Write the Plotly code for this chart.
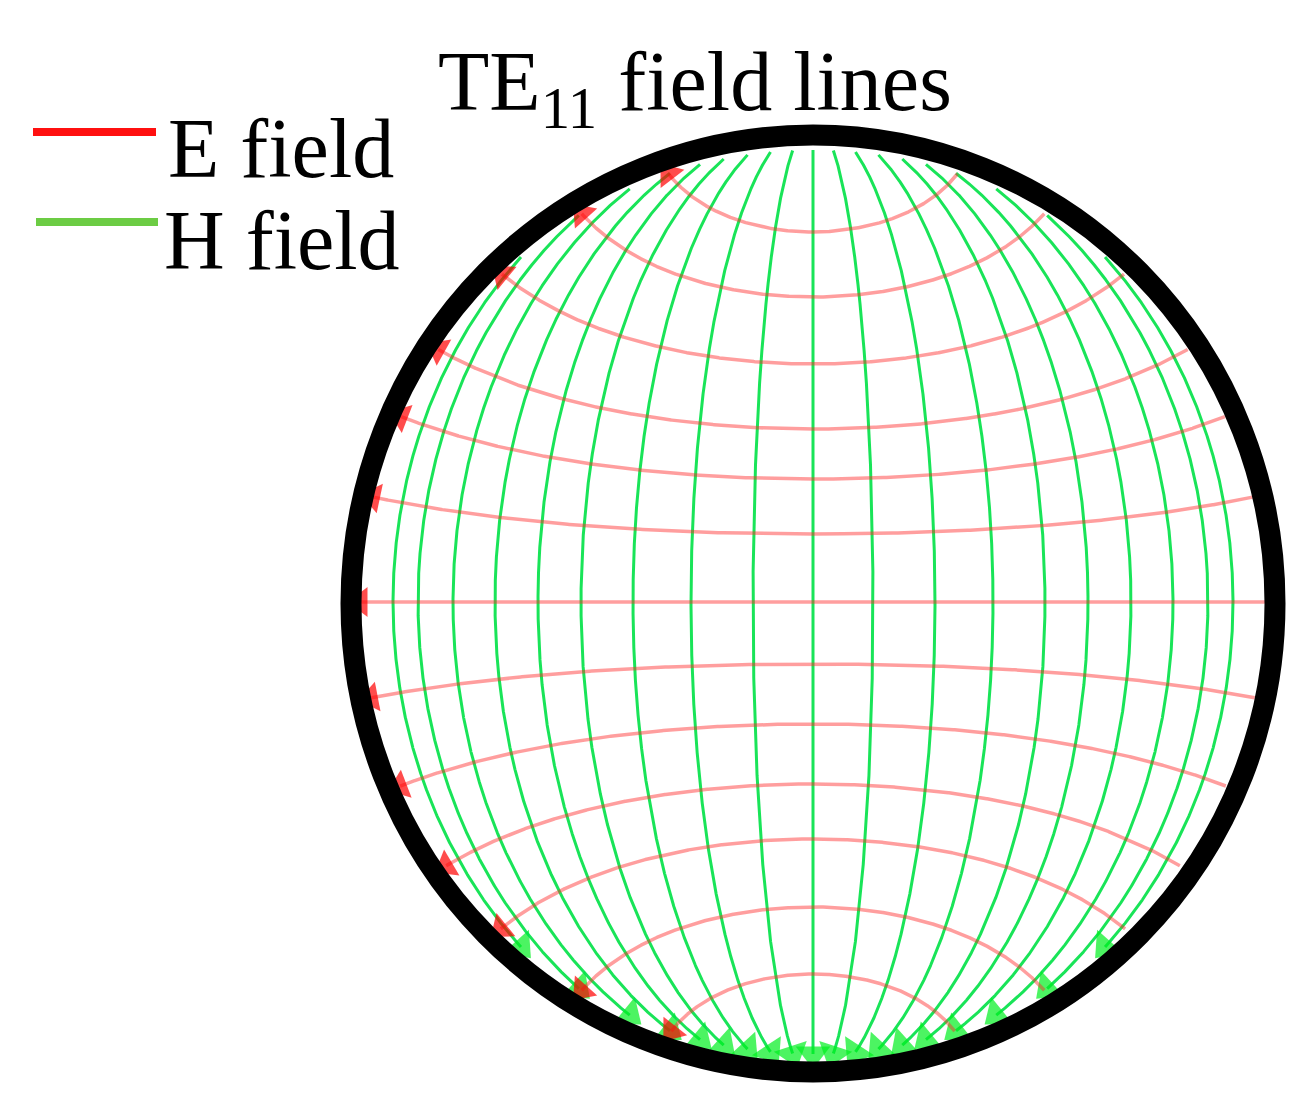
import numpy as np
import plotly.graph_objects as go

# field-line positions (pixels from the guide centre)
h_offsets = [-420, -395, -360, -318, -275, -232, -180, -122, -60, 0,
             60, 122, 180, 232, 275, 318, 360, 395, 420]
e_offsets = [370, 305, 238, 173, 123, 68, 0, -62, -122, -182, -237, -305, -372]

cx, cy = 805, 594      # guide centre in page pixels
b = 480                # half height of the H-line ellipses
r_clip = 452

fig = go.Figure()


def inside_run(X, Y, i0):
    ok = np.hypot(X, Y) < r_clip
    lo = i0
    while lo > 0 and ok[lo - 1]:
        lo -= 1
    hi = i0
    while hi < len(X) - 1 and ok[hi + 1]:
        hi += 1
    return X[lo:hi + 1], Y[lo:hi + 1]


def add_line(X, Y, color, width, arrow_color, arrow_size):
    px = cx + X
    py = cy - Y
    fig.add_trace(go.Scatter(x=px, y=py, mode='lines',
                             line=dict(color=color, width=width),
                             hoverinfo='skip', showlegend=False))
    k = max(1, len(px) // 80)
    fig.add_trace(go.Scatter(x=[px[-1 - k], px[-1]], y=[py[-1 - k], py[-1]],
                             mode='markers',
                             marker=dict(symbol=['circle', 'triangle-up'],
                                         size=[0, arrow_size], color=arrow_color,
                                         angleref='previous', line=dict(width=0)),
                             hoverinfo='skip', showlegend=False))


# H field: meridian-like ellipses, top to bottom
phi = np.linspace(np.pi / 2, -np.pi / 2, 4001)
for d in h_offsets:
    X = d * np.cos(phi)
    Y = b * np.sin(phi)
    X, Y = inside_run(X, Y, len(phi) // 2)
    add_line(X, Y, 'rgba(0,225,70,0.9)', 3, '#00f020', 30)

# E field: orthogonal curves, right to left
for yo in e_offsets:
    if yo == 0:
        X = np.linspace(r_clip + 5, -r_clip - 5, 2001)
        Y = np.zeros_like(X)
        X, Y = inside_run(X, Y, 1000)
    else:
        s = np.sign(yo)
        y = np.linspace(abs(yo), b - 1, 3000)
        x = np.sqrt(np.maximum(2 * b**2 * np.log(y / abs(yo)) - y**2 + yo**2, 0))
        X = np.concatenate([x[::-1], -x[1:]])
        Y = s * np.concatenate([y[::-1], y[1:]])
        X, Y = inside_run(X, Y, len(y) - 1)
    add_line(X, Y, 'rgba(255,40,40,0.45)', 3.5, '#ff0000', 26)

# waveguide wall
fig.add_shape(type='circle', x0=343, x1=1267, y0=127, y1=1064,
              line=dict(color='black', width=21))

# legend drawn by hand
fig.add_shape(type='line', x0=25, x1=148, y0=124, y1=124,
              line=dict(color='#ff1010', width=8))
fig.add_shape(type='line', x0=28, x1=150, y0=214, y1=214,
              line=dict(color='#6ccc44', width=8))
font = dict(family='Liberation Serif', size=84, color='black')
fig.add_annotation(x=158, y=140, text='E field', showarrow=False,
                   xanchor='left', yanchor='middle', font=font)
fig.add_annotation(x=154, y=232, text='H field', showarrow=False,
                   xanchor='left', yanchor='middle', font=font)
fig.add_annotation(x=687, y=80, text='TE<sub>11</sub> field lines', showarrow=False,
                   xanchor='center', yanchor='middle', font=font)

fig.update_xaxes(range=[0, 1311], visible=False)
fig.update_yaxes(range=[1102, 0], visible=False)
fig.update_layout(width=1311, height=1102, margin=dict(l=0, r=0, t=0, b=0),
                  paper_bgcolor='white', plot_bgcolor='white')
fig.write_html("out.html")
